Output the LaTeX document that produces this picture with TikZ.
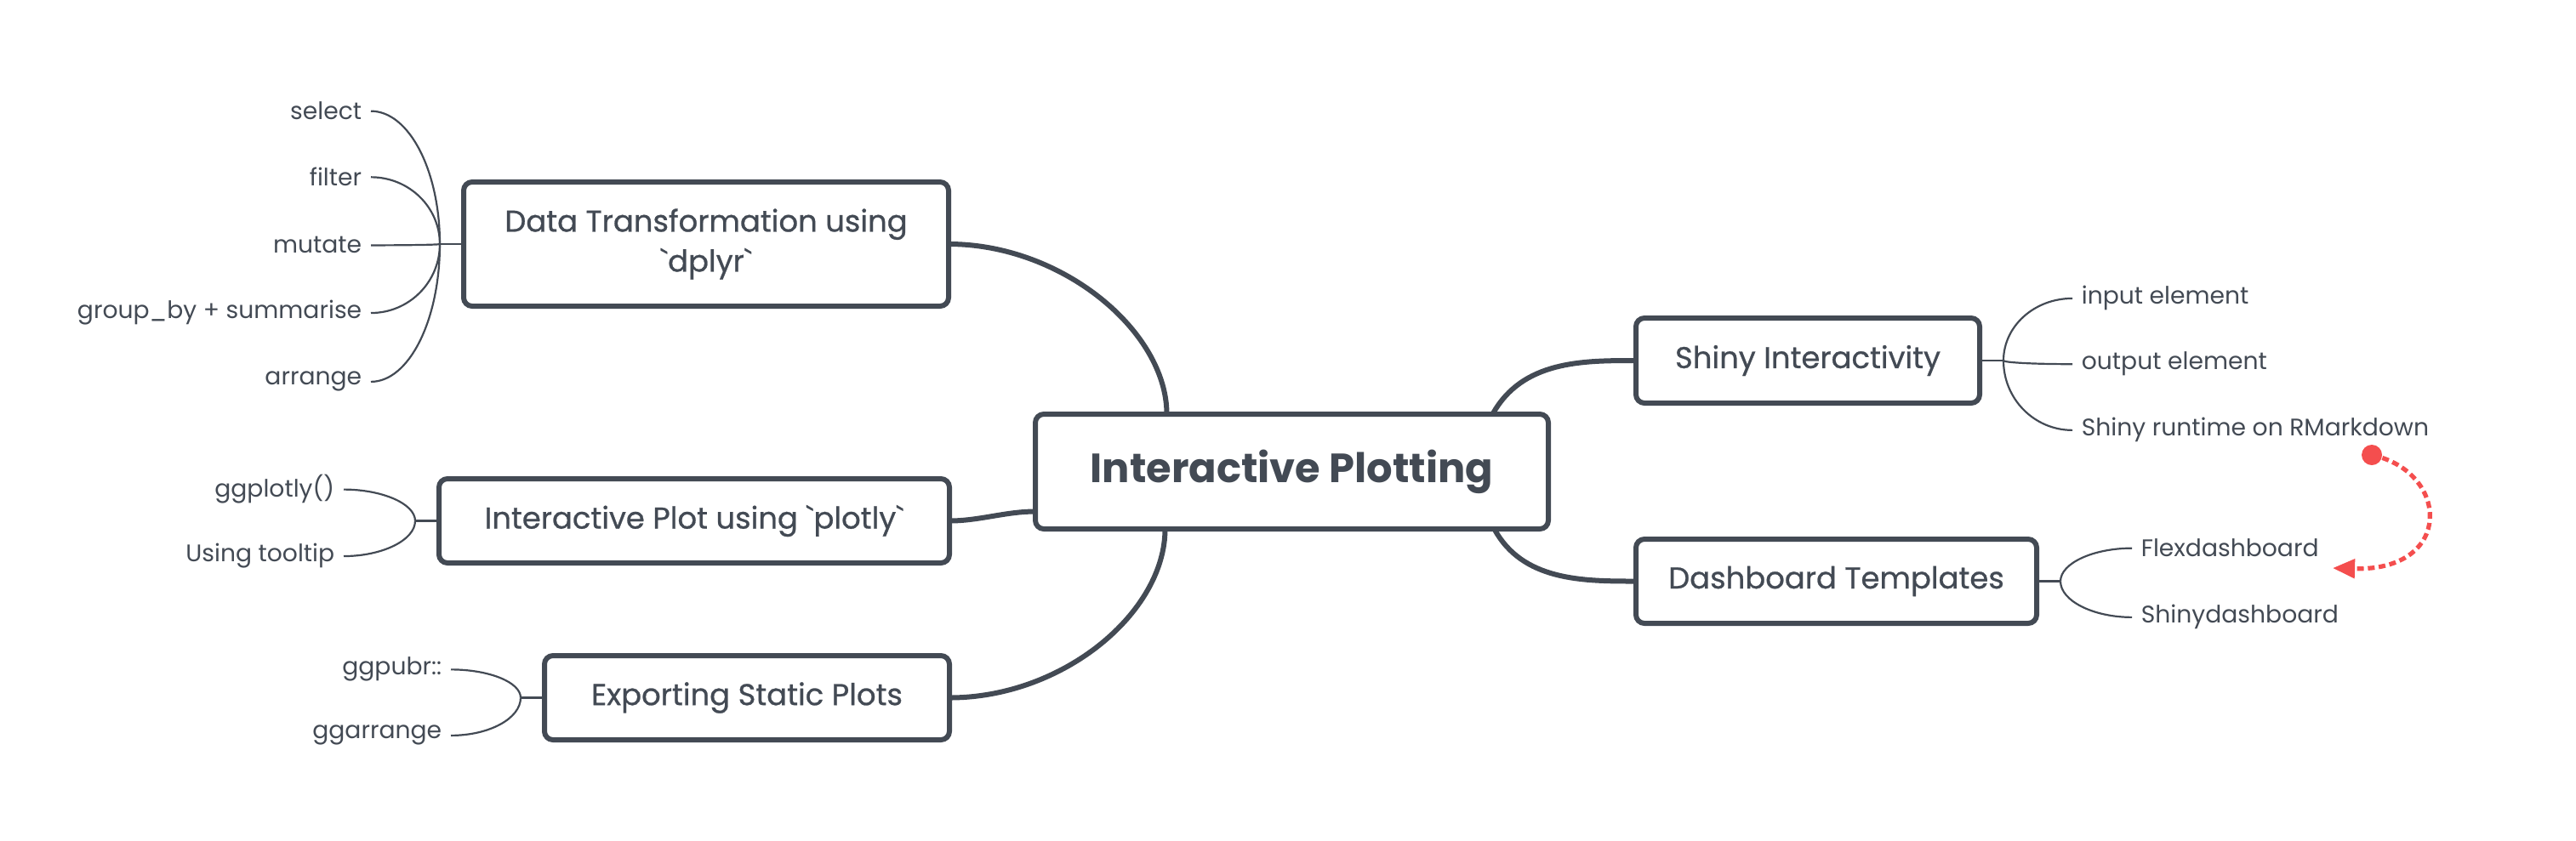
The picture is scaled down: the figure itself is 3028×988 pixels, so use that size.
\documentclass[tikz,border=0pt]{standalone}
\usepackage{fontspec}
\setmainfont{Poppins}
\newfontfamily\pmed{Poppins}[FakeBold=0.7]
\usetikzlibrary{arrows.meta,calc}
\definecolor{ink}{HTML}{434A54}
\definecolor{rel}{HTML}{F44E4E}
\begin{document}
\begin{tikzpicture}[x=0.25pt,y=-0.25pt,
  box/.style={draw=ink, line width=1.5pt, rounded corners=2.5pt, fill=white,
    inner sep=0pt, outer sep=0pt, text=ink, align=center,
    font=\pmed\fontsize{8.85}{11.75}\selectfont},
  main/.style={draw=ink, line width=1.5pt},
  sub/.style={draw=ink, line width=0.55pt},
  leaf/.style={text=ink, inner sep=0pt, font=\fontsize{7.05}{8}\selectfont},
  lleaf/.style={leaf, anchor=mid east},
  rleaf/.style={leaf, anchor=mid west},
  relline/.style={draw=rel, line width=1.3pt, dash pattern=on 2pt off 1.2pt,
    -{Triangle[length=6.5pt,width=5.5pt,fill=rel]}}]

\useasboundingbox (0,0) rectangle (3028,988);

% central topic
\node[box, minimum width=150.75pt, minimum height=33.75pt,
  font=\fontsize{12}{14}\bfseries\selectfont] (cen) at (1518.5,554.5) {Interactive Plotting};

% branches
\node[box, minimum width=142.5pt, minimum height=36.5pt] (dt) at (830,287)
  {Data Transformation using\\\textasciigrave dplyr\textasciigrave};
\node[box, minimum width=150pt, minimum height=24.75pt] (ip) at (816,612.5)
  {Interactive Plot using \textasciigrave plotly\textasciigrave};
\node[box, minimum width=119pt, minimum height=24.75pt] (es) at (878,820.5)
  {Exporting Static Plots};
\node[box, minimum width=101pt, minimum height=25pt] (si) at (2125,424)
  {Shiny Interactivity};
\node[box, minimum width=117.75pt, minimum height=24.75pt] (db) at (2158.5,683.5)
  {Dashboard Templates};

% main connectors
\draw[main] ($(cen.north)+(-147,0)$) .. controls +(0,-97) and +(134,0) .. (dt.east);
\draw[main] ($(cen.west)+(0,47)$) .. controls +(-35,0) and +(35,0) .. (ip.east);
\draw[main] ($(cen.south)+(-149,0)$) .. controls +(0,98) and +(134,0) .. (es.east);
\draw[main] ($(cen.north)+(236,0)$) .. controls +(35,-63) and +(-63,0) .. (si.west);
\draw[main] ($(cen.south)+(238,0)$) .. controls +(33,61) and +(-63,0) .. (db.west);

% junctions
\coordinate (jdt) at ($(dt.west)+(-28,0)$);
\coordinate (jip) at ($(ip.west)+(-28,0)$);
\coordinate (jes) at ($(es.west)+(-28,0)$);
\coordinate (jsi) at ($(si.east)+(28,0)$);
\coordinate (jdb) at ($(db.east)+(28,0)$);

% leaves
\node[lleaf] (l1) at (426,130) {select};
\node[lleaf] (l2) at (426,208) {filter};
\node[lleaf] (l3) at (426,287) {mutate};
\node[lleaf] (l4) at (426,364) {group\_by + summarise};
\node[lleaf] (l5) at (426,442) {arrange};
\node[lleaf] (l6) at (394,574) {ggplotly()};
\node[lleaf] (l7) at (394,650) {Using tooltip};
\node[lleaf] (l8) at (520,783) {ggpubr::};
\node[lleaf] (l9) at (520,858) {ggarrange};
\node[rleaf] (r1) at (2446,347) {input element};
\node[rleaf] (r2) at (2446,424) {output element};
\node[rleaf] (r3) at (2446,502) {Shiny runtime on RMarkdown};
\node[rleaf] (r4) at (2516,644) {Flexdashboard};
\node[rleaf] (r5) at (2516,722) {Shinydashboard};

% sub connectors
\foreach \b in {dt,ip,es} \draw[sub] (\b.west) -- (j\b);
\foreach \b in {si,db} \draw[sub] (\b.east) -- (j\b);
\foreach \j/\l in {dt/l1,dt/l2,dt/l3,dt/l4,dt/l5,ip/l6,ip/l7,es/l8,es/l9}
  \draw[sub] (j\j) .. controls ($(j\j)!0.55!(j\j|-\l.east)$) and ($(\l.east)+(55,0)$)
    .. ($(\l.east)+(10,0)$);
\foreach \j/\l in {si/r1,si/r2,si/r3,db/r4,db/r5}
  \draw[sub] (j\j) .. controls ($(j\j)!0.55!(j\j|-\l.west)$) and ($(\l.west)+(-55,0)$)
    .. ($(\l.west)+(-10,0)$);

% relationship
\coordinate (relA) at (2788,535);
\coordinate (relB) at (2742,668);
\fill[rel] (relA) circle (3pt);
\draw[relline] (relA) .. controls (2880,555) and (2885,672) .. (relB);
\end{tikzpicture}
\end{document}
